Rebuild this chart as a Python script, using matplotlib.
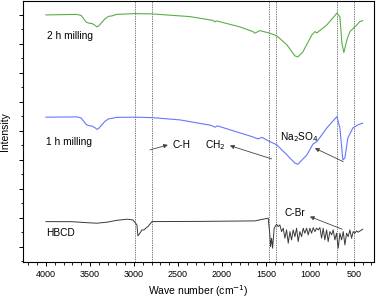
import matplotlib
matplotlib.use("Agg")
import matplotlib.pyplot as plt
import numpy as np

plt.rcParams['font.family'] = ['Liberation Sans', 'DejaVu Sans']

# HBCD (black)
hbcd_wn = [4000, 3700, 3550, 3420, 3300, 3200, 3080, 3011, 2966, 2955, 2932, 2909, 2886, 2852, 2841, 2795,
           2250, 1625, 1545, 1474, 1455, 1447, 1435, 1424, 1406, 1378, 1360, 1341,
           1322, 1303, 1284, 1265, 1246, 1227, 1208, 1190, 1170, 1151, 1133, 1114,
           1094, 1076, 1057, 1037, 1019, 1000, 981, 962, 943, 924, 906, 886, 867,
           849, 830, 810, 792, 773, 753, 735, 716, 697, 678, 659, 640, 621, 602,
           583, 565, 545, 526, 508, 489, 469, 451, 412, 400]
hbcd_int = [40.3, 40.2, 39.3, 38.7, 39.8, 41.5, 42.7, 42, 37, 26, 28.7, 32, 32, 34.7, 35.3, 40.3,
            40.5, 41, 42.5, 43.7, 27, 15.3, 23.7, 13.7, 33.7, 37.7, 35.3, 37,
            30.3, 33.7, 23.7, 32, 18.7, 30.3, 22, 32, 25.3, 33.7, 20.3, 30.3,
            25.3, 33.7, 28.7, 33.7, 27, 33.7, 28.7, 34.3, 30.3, 33.7, 32, 34.3, 23.7,
            33.7, 22, 32, 20.3, 30.3, 27, 32, 22, 28.7, 13.7, 28.7, 22, 30.3, 17,
            28.7, 25.3, 32, 23.7, 30.3, 28.7, 31, 29.7, 32, 32.7]

# 1 h milling (blue)
m1_wn = [4000, 3650, 3600, 3570, 3545, 3520, 3500, 3480, 3460, 3440, 3420, 3400,
         3370, 3330, 3290, 3250, 3200, 2989, 2795, 2477, 2120, 2080, 2050, 1795,
         1659, 1591, 1545, 1455, 1375, 1261, 1170, 1136, 1034, 966, 920, 807, 693,
         659, 625, 602, 568, 511, 455, 400]
m1_int = [144.7, 145, 144, 140.5, 137.5, 136.5, 136, 136, 135, 134, 132.5, 133.5,
          136.5, 140.5, 143, 143.5, 144.5, 144.7, 144.3, 142, 136.5, 134.7, 136, 129,
          125.3, 123, 124.5, 120.3, 117, 107, 98.7, 97.7, 107, 117.7, 120.3, 134, 145.3,
          134, 102, 104, 124, 134, 137, 138.7]

# 2 h milling (green)
m2_wn = [4000, 3650, 3600, 3570, 3545, 3520, 3500, 3480, 3460, 3440, 3420, 3400,
         3370, 3330, 3290, 3250, 3200, 2989, 2795, 2364, 2100, 2080, 2060, 1795,
         1648, 1625, 1568, 1455, 1375, 1261, 1170, 1136, 1080, 977, 943, 920, 807,
         693, 659, 636, 614, 580, 545, 466, 432, 400]
m2_int = [247, 247.5, 246.5, 243, 240, 239, 238.5, 238.5, 237.5, 236.5, 235, 236,
          239, 243, 245.5, 246, 247.5, 248.3, 248, 245.3, 241.5, 240, 241, 235,
          230.3, 228.7, 231.3, 228.7, 226, 217, 206, 205, 210, 227, 230.3, 229, 237,
          248.7, 245.3, 219, 209.3, 222, 230.3, 237, 240.3, 241.3]

ref_lines = [2990, 2800, 1462, 1390, 696, 496]

fig = plt.figure(figsize=(3.78, 3.0), dpi=100)
ax = fig.add_axes([0.062, 0.127, 0.927, 0.870])

for x in ref_lines:
    ax.axvline(x, color='#666666', lw=0.6, ls=(0, (1.6, 1.2)), zorder=1)

ax.plot(m2_wn, m2_int, color='#5aae48', lw=0.8, zorder=2)
ax.plot(m1_wn, m1_int, color='#6677ff', lw=0.8, zorder=2)
ax.plot(hbcd_wn, hbcd_int, color='#3a3a3a', lw=0.7, zorder=2)

ax.set_xlim(4256, 273)
ax.set_ylim(0, 261)
ax.set_xticks([4000, 3500, 3000, 2500, 2000, 1500, 1000, 500])
ax.set_xticks(np.arange(300, 4250, 100), minor=True)
ax.set_yticks(np.arange(15, 261, 29))
ax.set_yticks(np.arange(0.5, 261, 29), minor=True)
ax.set_yticklabels([])
ax.tick_params(axis='both', which='major', direction='out', length=3, width=0.7, labelsize=6.5, pad=2.5)
ax.tick_params(axis='both', which='minor', direction='out', length=1.8, width=0.6)
for s in ax.spines.values():
    s.set_linewidth(0.8)

ax.set_xlabel('Wave number (cm$^{-1}$)', fontsize=7.5, labelpad=3)
ax.set_ylabel('Intensity', fontsize=7.5, labelpad=4)

fs = 7.3
ax.text(3989, 226, '2 h milling', fontsize=fs, va='center', ha='left')
ax.text(4000, 120, '1 h milling', fontsize=fs, va='center', ha='left')
ax.text(4000, 29, 'HBCD', fontsize=fs, va='center', ha='left')
ax.text(2557, 117, 'C-H', fontsize=fs, va='center', ha='left')
ax.text(2193, 117, 'CH$_2$', fontsize=fs, va='center', ha='left')
ax.text(1341, 125.3, 'Na$_2$SO$_4$', fontsize=fs, va='center', ha='left')
ax.text(1284, 49, 'C-Br', fontsize=fs, va='center', ha='left')

ap = dict(arrowstyle='-|>', color='#444444', lw=0.6, mutation_scale=6, shrinkA=0, shrinkB=0)
ax.annotate('', xy=(2614, 117), xytext=(2818, 112), arrowprops=ap)
ax.annotate('', xy=(1909, 116.3), xytext=(1435, 103), arrowprops=ap)
ax.annotate('', xy=(943, 113.7), xytext=(622, 100.3), arrowprops=ap)
ax.annotate('', xy=(1000, 45.3), xytext=(633, 32.7), arrowprops=ap)

fig.savefig('out.png', dpi=100)
